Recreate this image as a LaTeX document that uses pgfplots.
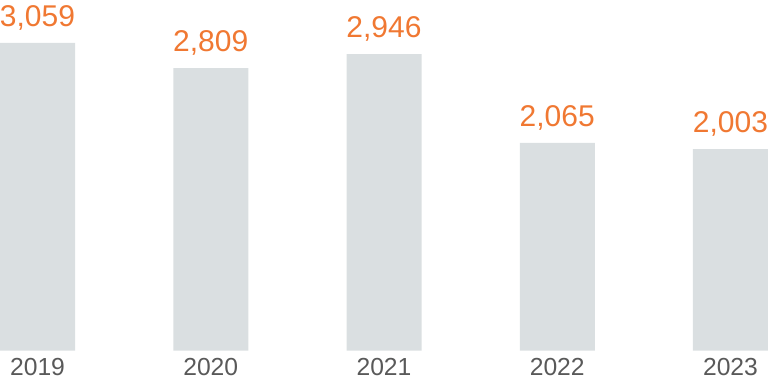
\documentclass[border=0pt]{standalone}
\usepackage{pgfplots}
\pgfplotsset{compat=1.18}
\usepackage{fontspec}
\setmainfont{Liberation Sans}
\definecolor{barcol}{HTML}{DADFE1}
\definecolor{valcol}{HTML}{F07832}
\definecolor{labcol}{HTML}{595959}
\begin{document}
\begin{tikzpicture}
\begin{axis}[
  scale only axis, width=576pt, height=263pt,
  ybar, bar width=56.25pt,
  xmin=-0.2165, xmax=4.2165, ymin=0, ymax=3485,
  axis line style={draw=none},
  tick style={draw=none},
  major tick length=0pt,
  hide y axis,
  xtick={0,1,2,3,4},
  xticklabels={2019,2020,2021,2022,2023},
  x tick label style={font=\fontsize{18.5}{22}\selectfont, text=labcol, inner sep=0pt, anchor=north, yshift=-5.25pt},
  point meta=explicit symbolic,
  nodes near coords,
  every node near coord/.append style={font=\fontsize{22.5}{27}\selectfont, text=valcol, inner sep=0pt, anchor=base, yshift=12.6pt},
  clip=false,
]
\addplot[fill=barcol, draw=none] coordinates {
  (0,3059) [3,059]
  (1,2809) [2,809]
  (2,2946) [2,946]
  (3,2065) [2,065]
  (4,2003) [2,003]
};
\end{axis}
\pgfresetboundingbox
\path (current axis.south west) ++(0,-25pt) rectangle (current axis.north east);
\end{tikzpicture}
\end{document}
